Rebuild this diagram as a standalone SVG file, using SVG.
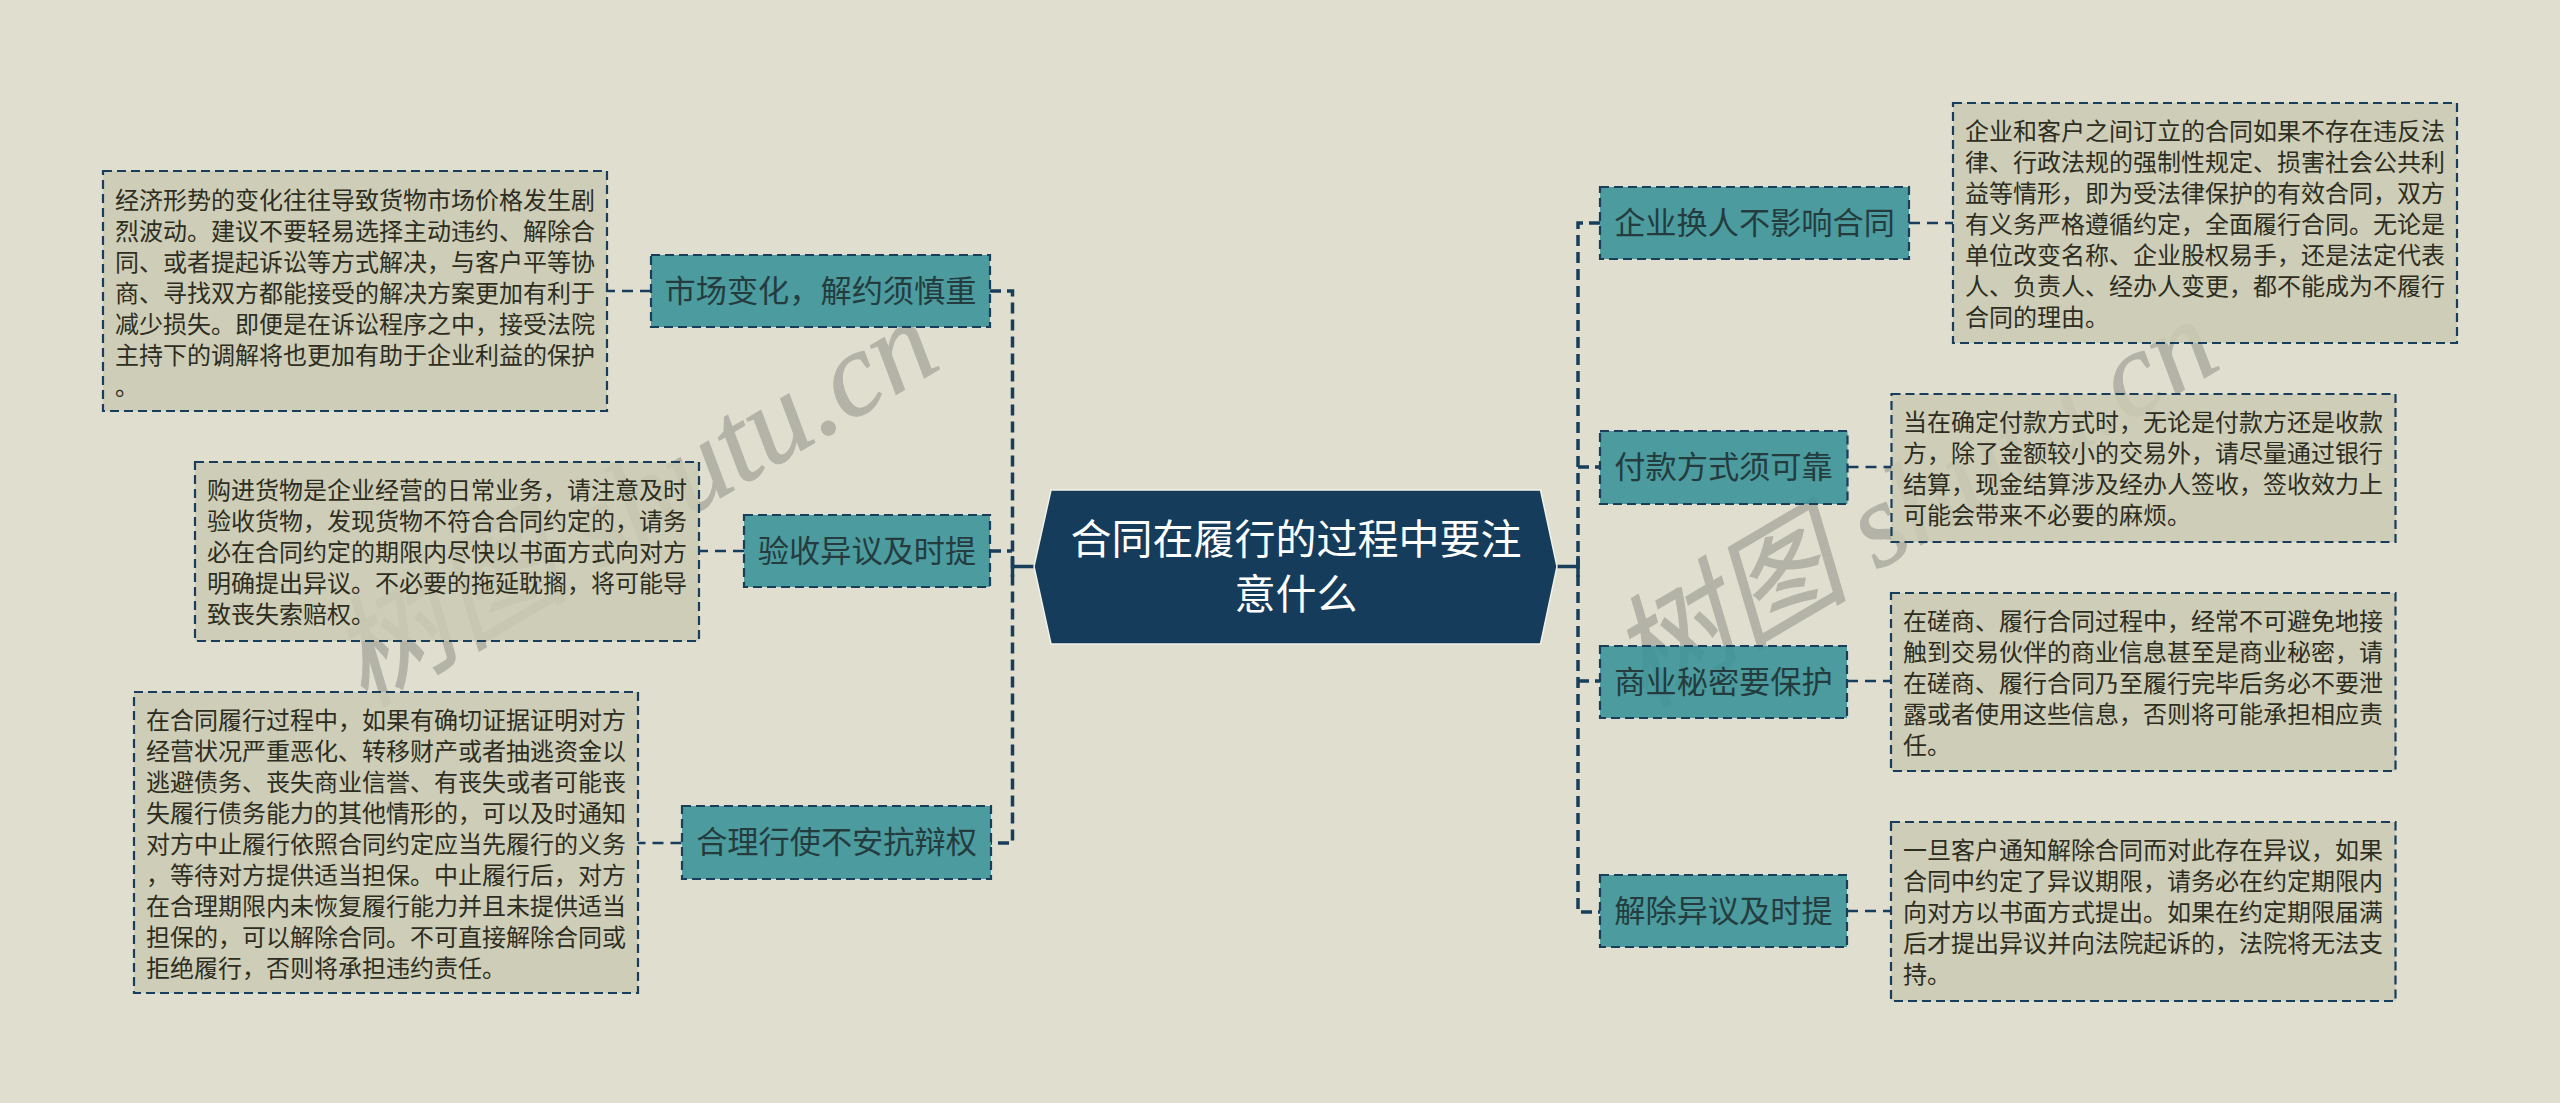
<svg xmlns="http://www.w3.org/2000/svg" width="2560" height="1103" viewBox="0 0 2560 1103">
<style>
text{font-family:"Microsoft YaHei","Noto Sans CJK SC","Liberation Sans",sans-serif}
.c{fill:none;stroke:#183e5c;stroke-width:3.500;stroke-dasharray:11 6}
.k{fill:none;stroke:#183e5c;stroke-width:2.500;stroke-dasharray:11 7}
.s{fill:none;stroke:#183e5c;stroke-width:3.500}
.b{fill:#3b9499;fill-opacity:.9;stroke:#183e5c;stroke-width:2.200;stroke-dasharray:9 5}
.d{fill:#cbcab3;fill-opacity:.85;stroke:#183e5c;stroke-width:2.200;stroke-dasharray:9 5}
.bt{font-size:31.200px;fill:#243c3e;text-anchor:middle}
.dt{font-size:24px;fill:#2d2d22}
.wm{font-family:"Liberation Serif","Noto Sans CJK SC",serif;font-size:120px;fill:#b3b3a7;stroke:#b3b3a7;stroke-width:1;font-style:italic}
</style>
<rect width="2560" height="1103" fill="#dfdecf"/>
<g id="watermarks"><text class="wm" transform="translate(364 708) rotate(-30.500)">树图 shutu.cn</text><text class="wm" transform="translate(1644 708) rotate(-30.500)">树图 shutu.cn</text></g>
<g id="connectors">
<path class="s" d="M1034 566.500H1012.500M1012.500 556V577M1557 566.500H1578M1578 556V577"/>
<path class="c" d="M990 291H1012.500V843H991"/>
<path class="c" d="M990 551H1012"/>
<path class="c" d="M1600 223H1578V912H1600"/>
<path class="c" d="M1578 467H1600M1578 681H1600"/>
<path class="k" d="M651 291H606.500M744 551H699M681.500 843H637.500M1909 223H1953M1847.500 467H1891.500M1847 681H1891M1847 911H1891"/>
</g>
<g id="center"><path d="M1051 490H1540.500L1557 566.500L1540.500 644H1051L1034 566.500Z" fill="#163c5c" stroke="#f2f2ea" stroke-width="1.500"/><text x="1296" y="554" font-size="41px" fill="#fff" text-anchor="middle">合同在履行的过程中要注</text><text x="1296" y="609" font-size="41px" fill="#fff" text-anchor="middle">意什么</text></g>
<g id="branch-l1"><rect class="b" x="651" y="255" width="339" height="72"/><text class="bt" x="820.500" y="302">市场变化，解约须慎重</text></g>
<g id="detail-l1"><rect class="d" x="103" y="171" width="504" height="240"/><g class="dt"><text x="115" y="208.500">经济形势的变化往往导致货物市场价格发生剧</text><text x="115" y="239.500">烈波动。建议不要轻易选择主动违约、解除合</text><text x="115" y="270.500">同、或者提起诉讼等方式解决，与客户平等协</text><text x="115" y="301.500">商、寻找双方都能接受的解决方案更加有利于</text><text x="115" y="332.500">减少损失。即便是在诉讼程序之中，接受法院</text><text x="115" y="363.500">主持下的调解将也更加有助于企业利益的保护</text><text x="115" y="394.500">。</text></g></g>
<g id="branch-l2"><rect class="b" x="744" y="515" width="246" height="72"/><text class="bt" x="867" y="562">验收异议及时提</text></g>
<g id="detail-l2"><rect class="d" x="195" y="462" width="504" height="179"/><g class="dt"><text x="207" y="498.500">购进货物是企业经营的日常业务，请注意及时</text><text x="207" y="529.500">验收货物，发现货物不符合合同约定的，请务</text><text x="207" y="560.500">必在合同约定的期限内尽快以书面方式向对方</text><text x="207" y="591.500">明确提出异议。不必要的拖延耽搁，将可能导</text><text x="207" y="622.500">致丧失索赔权。</text></g></g>
<g id="branch-l3"><rect class="b" x="682" y="806" width="309" height="73"/><text class="bt" x="836.500" y="853">合理行使不安抗辩权</text></g>
<g id="detail-l3"><rect class="d" x="134" y="692" width="504" height="301"/><g class="dt"><text x="146" y="728.500">在合同履行过程中，如果有确切证据证明对方</text><text x="146" y="759.500">经营状况严重恶化、转移财产或者抽逃资金以</text><text x="146" y="790.500">逃避债务、丧失商业信誉、有丧失或者可能丧</text><text x="146" y="821.500">失履行债务能力的其他情形的，可以及时通知</text><text x="146" y="852.500">对方中止履行依照合同约定应当先履行的义务</text><text x="146" y="883.500">，等待对方提供适当担保。中止履行后，对方</text><text x="146" y="914.500">在合理期限内未恢复履行能力并且未提供适当</text><text x="146" y="945.500">担保的，可以解除合同。不可直接解除合同或</text><text x="146" y="976.500">拒绝履行，否则将承担违约责任。</text></g></g>
<g id="branch-r1"><rect class="b" x="1600" y="187" width="309" height="72"/><text class="bt" x="1754.500" y="234">企业换人不影响合同</text></g>
<g id="detail-r1"><rect class="d" x="1953" y="103" width="504" height="240"/><g class="dt"><text x="1965" y="140">企业和客户之间订立的合同如果不存在违反法</text><text x="1965" y="171">律、行政法规的强制性规定、损害社会公共利</text><text x="1965" y="202">益等情形，即为受法律保护的有效合同，双方</text><text x="1965" y="233">有义务严格遵循约定，全面履行合同。无论是</text><text x="1965" y="264">单位改变名称、企业股权易手，还是法定代表</text><text x="1965" y="295">人、负责人、经办人变更，都不能成为不履行</text><text x="1965" y="326">合同的理由。</text></g></g>
<g id="branch-r2"><rect class="b" x="1600" y="431" width="247.500" height="73"/><text class="bt" x="1723.500" y="478">付款方式须可靠</text></g>
<g id="detail-r2"><rect class="d" x="1891.500" y="394" width="504" height="148"/><g class="dt"><text x="1903" y="430.500">当在确定付款方式时，无论是付款方还是收款</text><text x="1903" y="461.500">方，除了金额较小的交易外，请尽量通过银行</text><text x="1903" y="492.500">结算，现金结算涉及经办人签收，签收效力上</text><text x="1903" y="523.500">可能会带来不必要的麻烦。</text></g></g>
<g id="branch-r3"><rect class="b" x="1600" y="646" width="247" height="72"/><text class="bt" x="1723.500" y="693">商业秘密要保护</text></g>
<g id="detail-r3"><rect class="d" x="1891" y="593" width="504.500" height="178"/><g class="dt"><text x="1903" y="629.500">在磋商、履行合同过程中，经常不可避免地接</text><text x="1903" y="660.500">触到交易伙伴的商业信息甚至是商业秘密，请</text><text x="1903" y="691.500">在磋商、履行合同乃至履行完毕后务必不要泄</text><text x="1903" y="722.500">露或者使用这些信息，否则将可能承担相应责</text><text x="1903" y="753.500">任。</text></g></g>
<g id="branch-r4"><rect class="b" x="1600" y="875" width="247" height="72"/><text class="bt" x="1723.500" y="922">解除异议及时提</text></g>
<g id="detail-r4"><rect class="d" x="1891" y="822" width="504.500" height="179"/><g class="dt"><text x="1903" y="858.500">一旦客户通知解除合同而对此存在异议，如果</text><text x="1903" y="889.500">合同中约定了异议期限，请务必在约定期限内</text><text x="1903" y="920.500">向对方以书面方式提出。如果在约定期限届满</text><text x="1903" y="951.500">后才提出异议并向法院起诉的，法院将无法支</text><text x="1903" y="982.500">持。</text></g></g>
</svg>
